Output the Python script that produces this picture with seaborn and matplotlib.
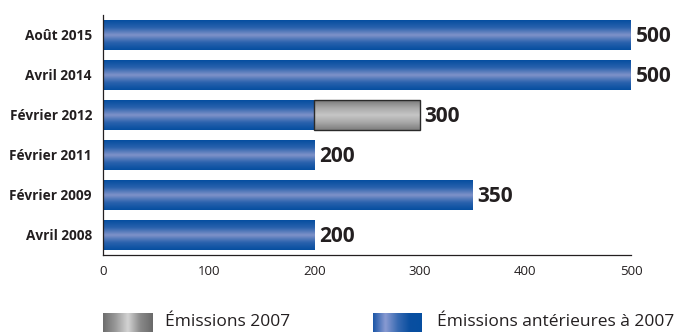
import numpy as np
import pandas as pd
import matplotlib
matplotlib.use("Agg")
import matplotlib.pyplot as plt
from matplotlib.patches import Rectangle
from matplotlib.colors import LinearSegmentedColormap
import seaborn as sns

# Data
periods = ["Août 2015", "Avril 2014", "Février 2012", "Février 2011", "Février 2009", "Avril 2008"]
emissions_anterieures = [500, 500, 200, 200, 350, 200]
emissions_2007 = [0, 0, 100, 0, 0, 0]
x_ticks = [0, 100, 200, 300, 400, 500]
legend_labels = ["Émissions 2007", "Émissions antérieures à 2007"]

totals = [a + b for a, b in zip(emissions_anterieures, emissions_2007)]
df = pd.DataFrame({"periode": periods, "anterieures": emissions_anterieures, "total": totals})

sns.set_style("white")
plt.rcParams["font.family"] = ["Open Sans", "DejaVu Sans"]

fig = plt.figure(figsize=(6.86, 3.32), dpi=100)
ax = fig.add_axes([103 / 686, 1 - 255 / 332, (631 - 103) / 686, (255 - 15) / 332])

BAR_W = 0.73
sns.barplot(data=df, x="total", y="periode", orient="h", color="#a0a0a0", width=BAR_W, ax=ax)
sns.barplot(data=df, x="anterieures", y="periode", orient="h", color="#0a50a0", width=BAR_W, ax=ax)

# Colour ramps for the shaded bars
blue_cmap = LinearSegmentedColormap.from_list(
    "blue_shade", ["#064ea0", "#2a62ad", "#8093c9", "#2a62ad", "#064ea0"])
gray_cmap = LinearSegmentedColormap.from_list(
    "gray_shade", ["#7a7a7a", "#a8a8a8", "#c6c6c6", "#a8a8a8", "#7e7e7e"])
vgrad = np.linspace(0, 1, 64).reshape(-1, 1)

n = len(periods)
total_patches = ax.patches[:n]
blue_patches = ax.patches[n:2 * n]

for p_tot, p_blue in zip(total_patches, blue_patches):
    y0 = p_blue.get_y()
    h = p_blue.get_height()
    xb = p_blue.get_x() + p_blue.get_width()
    xt = p_tot.get_x() + p_tot.get_width()
    p_tot.set_visible(False)
    p_blue.set_facecolor("none")
    p_blue.set_edgecolor("none")
    ax.imshow(vgrad, cmap=blue_cmap, aspect="auto", interpolation="bicubic",
              extent=(p_blue.get_x(), xb, y0 + h, y0), zorder=2)
    if xt > xb:
        ax.imshow(vgrad, cmap=gray_cmap, aspect="auto", interpolation="bicubic",
                  extent=(xb, xt, y0 + h, y0), zorder=2)
        ax.add_patch(Rectangle((xb, y0), xt - xb, h, fill=False,
                               edgecolor="#2a2a2a", linewidth=1.0, zorder=3))
    ax.text(xt + 4.5, y0 + h / 2 + 0.03, f"{int(xt)}", ha="left", va="center",
            fontsize=15, fontweight="bold", color="#231f20", zorder=4)

ax.set_xlim(0, 500)
ax.set_ylim(n - 0.5, -0.5)
ax.set_xlabel("")
ax.set_ylabel("")
ax.set_xticks(x_ticks)
ax.set_xticklabels([str(t) for t in x_ticks], fontsize=9.5, color="#231f20")
ax.set_yticks(range(n))
ax.set_yticklabels(periods, fontsize=9.8, fontweight="bold", color="#231f20")
ax.set_yticks(np.arange(n) - 0.5, minor=True)
ax.tick_params(axis="y", which="major", length=0, pad=8)
ax.tick_params(axis="y", which="minor", length=5, direction="inout", width=0.9, color="#231f20")
ax.tick_params(axis="x", which="major", length=6, direction="inout", width=0.9,
               color="#231f20", pad=4)

for side in ["top", "right"]:
    ax.spines[side].set_visible(False)
for side in ["left", "bottom"]:
    ax.spines[side].set_color("#231f20")
    ax.spines[side].set_linewidth(0.9)

# Legend swatches with horizontal shading
hgrad = np.linspace(0, 1, 64).reshape(1, -1)
legend_gray = LinearSegmentedColormap.from_list(
    "legend_gray", ["#6e6e6e", "#9a9a9a", "#d4d4d4", "#8a8a8a", "#6a6a6a"])
legend_blue = LinearSegmentedColormap.from_list(
    "legend_blue", ["#1d57a8", "#8a9bd2", "#3a6bb3", "#0a4fa0", "#064ea0"])

for x_px, cmap, label, tx in [(103, legend_gray, legend_labels[0], 165),
                              (373, legend_blue, legend_labels[1], 437)]:
    sw = fig.add_axes([x_px / 686, 0, 49 / 686, 19 / 332])
    sw.imshow(hgrad, cmap=cmap, aspect="auto", interpolation="bicubic")
    sw.set_axis_off()
    fig.text(tx / 686, 1 - 322 / 332, label, ha="left", va="center",
             fontsize=12.5, color="#231f20")

fig.savefig("out.png", dpi=100)
